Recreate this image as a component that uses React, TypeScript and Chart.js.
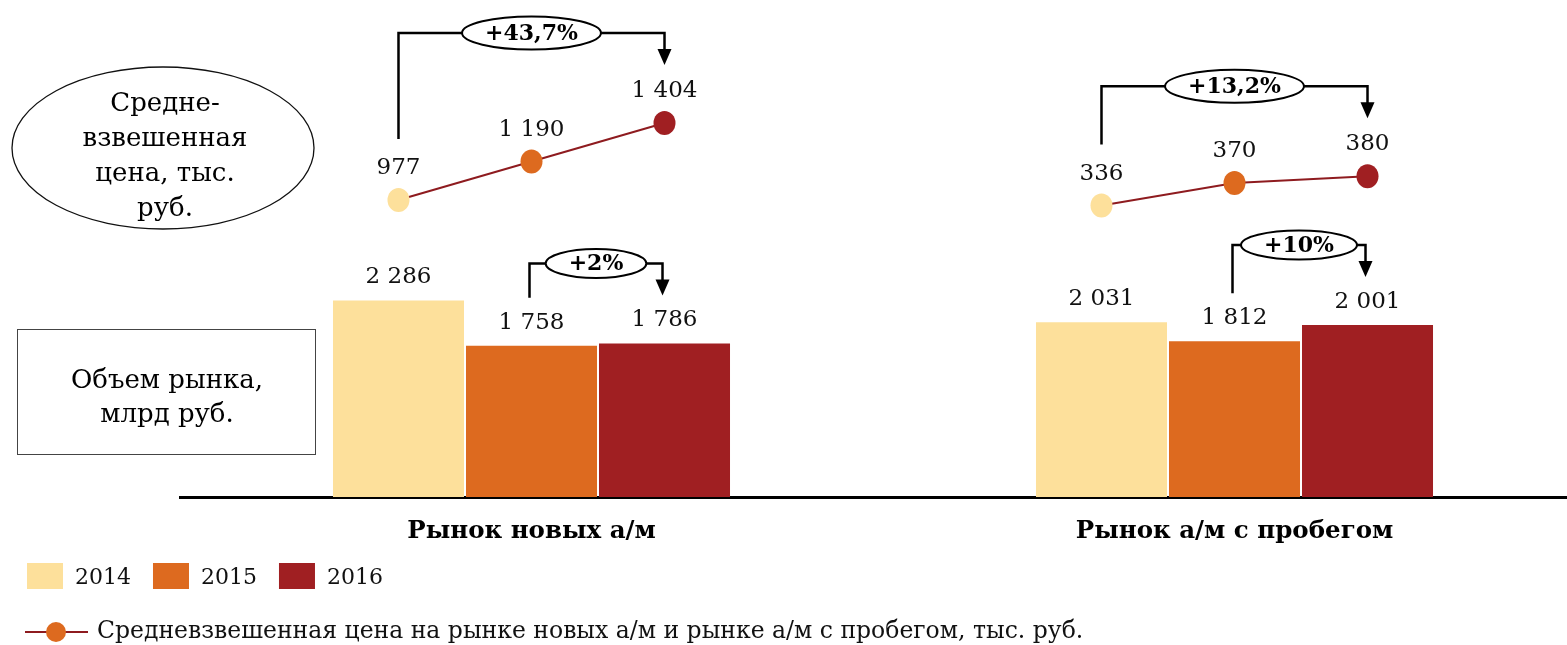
import React, { useEffect, useRef } from 'react';
import { Chart, registerables } from 'chart.js';

Chart.register(...registerables);

const categories = ['Рынок новых а/м', 'Рынок а/м с пробегом'];
const years = ['2014', '2015', '2016'];
const volume2014 = [2286, 2031];
const volume2015 = [1758, 1812];
const volume2016 = [1786, 2001];
const priceNew = [977, 1190, 1404];
const priceUsed = [336, 370, 380];
const volumeChangeLabels = ['+2%', '+10%'];
const priceChangeLabels = ['+43,7%', '+13,2%'];
const leftEllipseLines = ['Средне-', 'взвешенная', 'цена, тыс.', 'руб.'];
const leftBoxLines = ['Объем рынка,', 'млрд руб.'];
const priceLegendLabel = 'Средневзвешенная цена на рынке новых а/м и рынке а/м с пробегом, тыс. руб.';

const yearColors = ['#FDE09B', '#DD6A1F', '#A01F22'];
const lineColor = '#8E1B1F';
const numFont = '"DejaVu Serif"';

const fmt = (v: number) => String(v).replace(/\B(?=(\d{3})+(?!\d))/g, ' ');

function drawBracket(ctx: CanvasRenderingContext2D, x1: number, yLeft: number, x2: number, yTop: number, yTip: number, label: string, eh: number) {
  ctx.save();
  ctx.strokeStyle = '#000';
  ctx.lineWidth = 2.5;
  ctx.beginPath();
  ctx.moveTo(x1, yLeft);
  ctx.lineTo(x1, yTop);
  ctx.lineTo(x2, yTop);
  ctx.lineTo(x2, yTip - 14);
  ctx.stroke();
  ctx.fillStyle = '#000';
  ctx.beginPath();
  ctx.moveTo(x2 - 7, yTip - 16);
  ctx.lineTo(x2 + 7, yTip - 16);
  ctx.lineTo(x2, yTip);
  ctx.closePath();
  ctx.fill();
  ctx.font = `bold 22px ${numFont}`;
  const tw = ctx.measureText(label).width;
  const cx = (x1 + x2) / 2;
  ctx.beginPath();
  ctx.ellipse(cx, yTop, tw / 2 + 23, eh / 2, 0, 0, Math.PI * 2);
  ctx.fillStyle = '#fff';
  ctx.fill();
  ctx.lineWidth = 2;
  ctx.stroke();
  ctx.fillStyle = '#000';
  ctx.textAlign = 'center';
  ctx.textBaseline = 'middle';
  ctx.fillText(label, cx, yTop + 1);
  ctx.restore();
}

const overlayPlugin = {
  id: 'overlay',
  afterDatasetsDraw(chart: any) {
    const ctx: CanvasRenderingContext2D = chart.ctx;
    const volumes = [volume2014, volume2015, volume2016];
    ctx.save();
    ctx.fillStyle = '#111';
    ctx.font = `23px ${numFont}`;
    ctx.textAlign = 'center';
    ctx.textBaseline = 'middle';
    for (let d = 0; d < 3; d++) {
      const meta = chart.getDatasetMeta(d);
      meta.data.forEach((bar: any, i: number) => {
        ctx.fillText(fmt(volumes[d][i]), bar.x, bar.y - 23);
      });
    }
    ctx.restore();

    const priceSets = [
      { vals: priceNew, scale: chart.scales.yNew },
      { vals: priceUsed, scale: chart.scales.yUsed },
    ];
    priceSets.forEach((ps, g) => {
      const pts = ps.vals.map((v, d) => ({
        x: chart.getDatasetMeta(d).data[g].x,
        y: ps.scale.getPixelForValue(v),
      }));
      ctx.save();
      ctx.strokeStyle = lineColor;
      ctx.lineWidth = 2;
      ctx.beginPath();
      pts.forEach((p, i) => (i ? ctx.lineTo(p.x, p.y) : ctx.moveTo(p.x, p.y)));
      ctx.stroke();
      pts.forEach((p, d) => {
        ctx.beginPath();
        ctx.ellipse(p.x, p.y, 11, 12, 0, 0, Math.PI * 2);
        ctx.fillStyle = yearColors[d];
        ctx.fill();
      });
      ctx.fillStyle = '#111';
      ctx.font = `23px ${numFont}`;
      ctx.textAlign = 'center';
      ctx.textBaseline = 'middle';
      pts.forEach((p, d) => ctx.fillText(fmt(ps.vals[d]), p.x, p.y - 32));
      ctx.restore();
      drawBracket(ctx, pts[0].x, pts[0].y - 61, pts[2].x, pts[2].y - 90, pts[2].y - 58, priceChangeLabels[g], 33);
    });

    for (let g = 0; g < 2; g++) {
      const b1 = chart.getDatasetMeta(1).data[g];
      const b2 = chart.getDatasetMeta(2).data[g];
      drawBracket(ctx, b1.x - 2, b1.y - 48, b2.x - 2, b2.y - 80, b2.y - 48, volumeChangeLabels[g], 29);
    }
  },
  afterDraw(chart: any) {
    const ctx: CanvasRenderingContext2D = chart.ctx;
    ctx.save();
    // left ellipse
    ctx.beginPath();
    ctx.ellipse(163, 148, 151, 81, 0, 0, Math.PI * 2);
    ctx.strokeStyle = '#111';
    ctx.lineWidth = 1.3;
    ctx.stroke();
    ctx.fillStyle = '#000';
    ctx.font = `26px ${numFont}`;
    ctx.textAlign = 'center';
    ctx.textBaseline = 'middle';
    leftEllipseLines.forEach((t, i) => ctx.fillText(t, 165, 104 + i * 35));
    // left box
    ctx.strokeStyle = '#444';
    ctx.lineWidth = 1;
    ctx.strokeRect(17.5, 329.5, 298, 125);
    leftBoxLines.forEach((t, i) => ctx.fillText(t, 167, 381 + i * 34));

    // legend
    ctx.font = `22px ${numFont}`;
    ctx.textAlign = 'left';
    let x = 27;
    years.forEach((y, d) => {
      ctx.fillStyle = yearColors[d];
      ctx.fillRect(x, 563, 36, 26);
      ctx.fillStyle = '#111';
      ctx.fillText(y, x + 48, 578);
      x += 48 + ctx.measureText(y).width + 22;
    });
    ctx.strokeStyle = lineColor;
    ctx.lineWidth = 2;
    ctx.beginPath();
    ctx.moveTo(25, 632);
    ctx.lineTo(88, 632);
    ctx.stroke();
    ctx.beginPath();
    ctx.arc(56, 632, 10, 0, Math.PI * 2);
    ctx.fillStyle = yearColors[1];
    ctx.fill();
    ctx.fillStyle = '#111';
    ctx.font = `23.5px ${numFont}`;
    ctx.fillText(priceLegendLabel, 97, 632);
    ctx.restore();
  },
};

export default function App() {
  const ref = useRef<HTMLCanvasElement>(null);
  useEffect(() => {
    if (!ref.current) return;
    const chart = new Chart(ref.current, {
      type: 'bar',
      data: {
        labels: categories,
        datasets: years.map((y, d) => ({
          label: y,
          data: [volume2014, volume2015, volume2016][d],
          backgroundColor: yearColors[d],
          borderWidth: 0,
          barPercentage: 0.985,
          categoryPercentage: 0.5676,
          yAxisID: 'y',
        })),
      },
      options: {
        responsive: false,
        animation: false,
        layout: { padding: { left: 180, right: 14, top: 0, bottom: 0 } },
        plugins: { legend: { display: false }, tooltip: { enabled: false } },
        scales: {
          x: {
            type: 'category',
            grid: { display: false, drawTicks: false },
            border: { display: true, color: '#000', width: 3 },
            ticks: { color: '#000', padding: 20, font: { family: 'DejaVu Serif', size: 24.5, weight: 'bold' } },
            afterFit: (s: any) => { s.height = 148; },
          },
          y: { type: 'linear', display: false, min: 0, max: 5780 },
          yNew: { type: 'linear', axis: 'y', display: false, min: -670, max: 2086 },
          yUsed: { type: 'linear', axis: 'y', display: false, min: -102, max: 645 },
        },
      } as any,
      plugins: [overlayPlugin],
    });
    return () => chart.destroy();
  }, []);
  return (
    <div style={{ position: 'fixed', left: 0, top: 0, width: 1567, height: 645, overflow: 'hidden', background: '#fff' }}>
      <canvas ref={ref} width={1600} height={645} style={{ width: 1600, height: 645, display: 'block' }} />
    </div>
  );
}
